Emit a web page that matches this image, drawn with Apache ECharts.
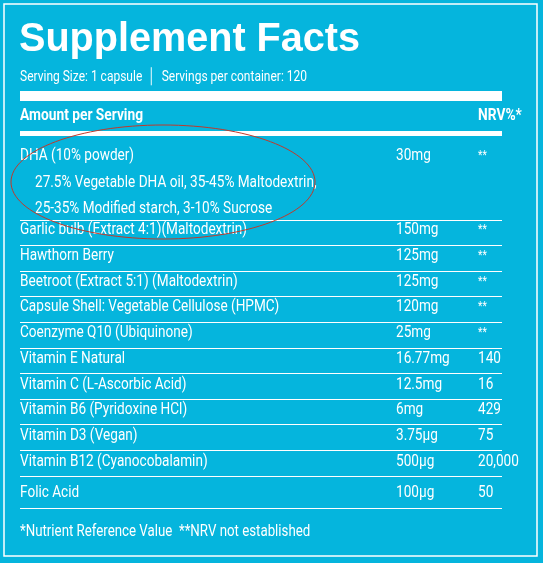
<!DOCTYPE html>
<html><head><meta charset="utf-8">
<script src="https://cdn.jsdelivr.net/npm/echarts@6/dist/echarts.min.js"></script>
<style>html,body{margin:0;padding:0;background:#fff}#c{width:543px;height:563px}</style>
</head><body><div id="c"></div>
<script>
const title = "Supplement Facts";
const servingLine = "Serving Size: 1 capsule  │  Servings per container: 120";
const headers = ["Amount per Serving", "NRV%*"];
const ingredients = ["DHA (10% powder)", "Garlic bulb (Extract 4:1)(Maltodextrin)", "Hawthorn Berry", "Beetroot (Extract 5:1) (Maltodextrin)", "Capsule Shell: Vegetable Cellulose (HPMC)", "Coenzyme Q10 (Ubiquinone)", "Vitamin E Natural", "Vitamin C (L-Ascorbic Acid)", "Vitamin B6 (Pyridoxine HCl)", "Vitamin D3 (Vegan)", "Vitamin B12 (Cyanocobalamin)", "Folic Acid"];
const amounts = ["30mg", "150mg", "125mg", "125mg", "120mg", "25mg", "16.77mg", "12.5mg", "6mg", "3.75µg", "500µg", "100µg"];
const nrv = ["**", "**", "**", "**", "**", "**", "140", "16", "429", "75", "20,000", "50"];
const dhaSub = ["27.5% Vegetable DHA oil, 35-45% Maltodextrin,", "25-35% Modified starch, 3-10% Sucrose"];
const footnote = "*Nutrient Reference Value  **NRV not established";

const F = "'Roboto','Liberation Sans',sans-serif";
const W = '#ffffff';
const els = [];
function txt(x, y, s, size, weight, sx, fam) {
  els.push({type:'text', x, y, scaleX: sx || 0.85, style:{text:s, fill:W, font:(weight||'normal')+' '+size+'px '+(fam||F), textVerticalAlign:'middle'}});
}
function rect(x, y, w, h) { els.push({type:'rect', shape:{x,y,width:w,height:h}, style:{fill:W}}); }
els.push({type:'rect', shape:{x:4,y:4,width:533,height:552}, style:{fill:'none', stroke:W, lineWidth:1.5}});
txt(19, 40, title, 40, 'bold', 0.99, "'Liberation Sans','Arial',sans-serif");
txt(20, 77, servingLine, 15, 'normal', 0.8);
rect(20, 91, 482, 10);
txt(20, 116, headers[0], 16, 'bold', 0.86);
txt(478, 116, headers[1], 16, 'bold', 0.86);
rect(20, 131, 482, 5);
const rowY = [156, 230, 256, 282, 307, 333, 359, 385, 410, 436, 462, 493];
ingredients.forEach((n, i) => {
  const y = rowY[i];
  txt(20, y, n, 16);
  txt(396, y, amounts[i], 16);
  txt(478, y, nrv[i], nrv[i] === '**' ? 12 : 16);
});
dhaSub.forEach((s, k) => txt(35, 183 + 26 * k, s, 16));
const seps = [220, 245, 271, 296, 322, 348, 373, 399, 424, 450, 476, 508];
seps.forEach(y => rect(20, y, 482, 1));
txt(20, 532, footnote, 16, 'normal', 0.83);
els.push({type:'ellipse', shape:{cx:163, cy:182, rx:152, ry:57}, style:{fill:'none', stroke:'#c0392b', lineWidth:1}});

const chart = echarts.init(document.getElementById('c'));
chart.setOption({backgroundColor:'#05b5dd', graphic:{elements:els}});
</script></body></html>
